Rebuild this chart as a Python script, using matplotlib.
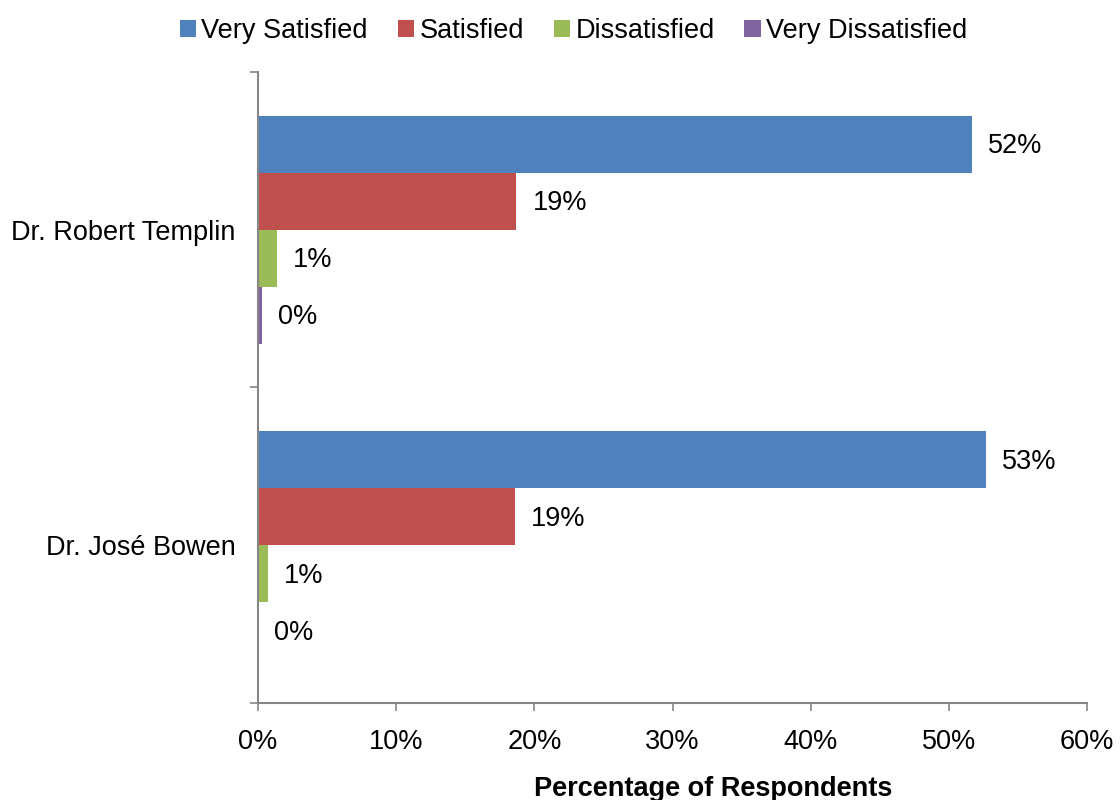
import numpy as np
import matplotlib.pyplot as plt

plt.rcParams['font.family'] = ['Liberation Sans', 'DejaVu Sans']

people = ["Dr. Robert Templin", "Dr. José Bowen"]
series = ["Very Satisfied", "Satisfied", "Dissatisfied", "Very Dissatisfied"]
very_satisfied = [51.7, 52.7]
satisfied = [18.7, 18.6]
dissatisfied = [1.4, 0.7]
very_dissatisfied = [0.3, 0.0]
colors = ["#4F81BD", "#C0504D", "#9BBB59", "#8064A2"]
xticks = [0, 10, 20, 30, 40, 50, 60]

FS = 19.5

fig = plt.figure(figsize=(11.2, 8), dpi=100)
ax = fig.add_axes([0.2304, 0.1213, 0.7402, 0.7887])

centers = np.array([1.5, 0.5])  # Templin on top
h = 0.181
offsets = [1.5 * h, 0.5 * h, -0.5 * h, -1.5 * h]
data = [very_satisfied, satisfied, dissatisfied, very_dissatisfied]

for vals, off, col, name in zip(data, offsets, colors, series):
    bars = ax.barh(centers + off, vals, height=h, color=col, label=name)
    for b, v in zip(bars, vals):
        ax.annotate(f"{v:.0f}%", (v, b.get_y() + b.get_height() / 2),
                    xytext=(11.5, -1.5), textcoords="offset points",
                    va="center", ha="left", fontsize=FS)

ax.set_xlim(0, 60)
ax.set_ylim(0, 2)
ax.set_xticks(xticks)
ax.set_xticklabels([f"{t}%" for t in xticks], fontsize=FS)
ax.set_yticks([0, 1, 2])
ax.set_yticklabels([])
ax.set_yticks(centers, minor=True)
ax.set_yticklabels(people, minor=True, fontsize=FS)
ax.tick_params(axis="y", which="minor", length=0, pad=16)
ax.tick_params(axis="both", which="major", color="#868686", length=6, width=1.2)
ax.tick_params(axis="x", pad=13)

for s in ["top", "right"]:
    ax.spines[s].set_visible(False)
for s in ["left", "bottom"]:
    ax.spines[s].set_color("#868686")
    ax.spines[s].set_linewidth(1.5)

ax.set_xlabel("Percentage of Respondents", fontsize=FS, fontweight="bold")
ax.xaxis.set_label_coords(0.549, -0.115)

fig.legend(loc="upper center", bbox_to_anchor=(0.512, 1.008), ncol=4, frameon=False,
           fontsize=FS, handlelength=0.6, handleheight=0.6, handletextpad=0.2,
           columnspacing=1.1)

fig.savefig("out.png", dpi=100)
